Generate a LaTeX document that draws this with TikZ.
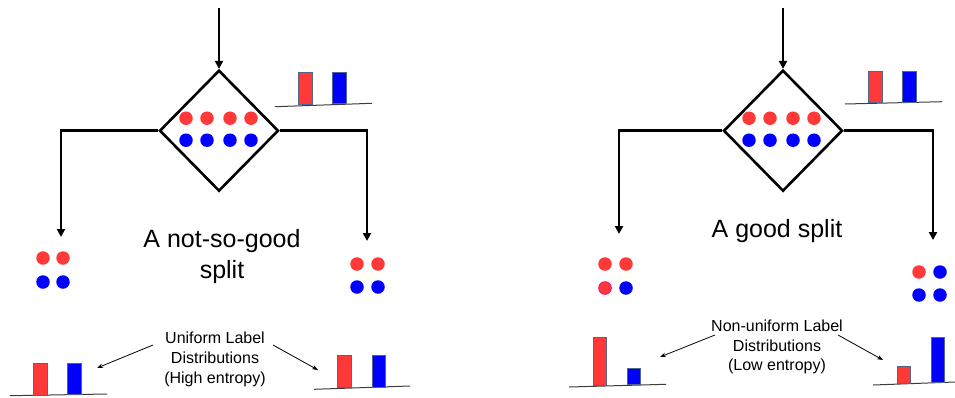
\documentclass[tikz,border=0pt]{standalone}
\usepackage{fontspec}
\setmainfont{Liberation Sans}
\usepackage{xcolor}
\definecolor{dot_red}{RGB}{255,56,56}
\definecolor{dot_blue}{RGB}{0,0,255}
\definecolor{bar_edge}{RGB}{80,100,140}
\definecolor{axis_gray}{RGB}{60,60,60}
\usetikzlibrary{shapes.geometric,arrows.meta}

\tikzset{
  test_box/.style={diamond, draw, line width=2.6pt, inner sep=0pt,
    minimum width=119pt, minimum height=121pt},
  flow/.style={line width=2.6pt, -{Triangle[length=8pt,width=8pt]}},
  red_dot/.style={circle, fill=dot_red, inner sep=0pt, minimum size=13.5pt},
  blue_dot/.style={circle, fill=dot_blue, inner sep=0pt, minimum size=13.5pt},
  red_bar/.style={fill=dot_red, draw=bar_edge, line width=0.9pt},
  blue_bar/.style={fill=dot_blue, draw=bar_edge, line width=0.9pt},
  base_line/.style={draw=axis_gray, line width=1pt},
  title_text/.style={align=center, font=\fontsize{25}{31}\selectfont},
  note_text/.style={align=center, font=\fontsize{16}{19.6}\selectfont},
  note_arrow/.style={line width=0.8pt, -{Stealth[length=6pt,width=4.5pt]}}
}

\begin{document}
\begin{tikzpicture}[x=1pt,y=-1pt]
\useasboundingbox (0,0) rectangle (955,397);

% ---- left: the not-so-good split
\node[test_box] (split_a) at (219,130.7) {};
\coordinate (entry_a) at (219,8);
\coordinate (leaf_a1) at (61,237);
\coordinate (leaf_a2) at (367,241);
\draw[flow] (entry_a) -- (split_a.north);
\draw[flow] (split_a.west) -| (leaf_a1);
\draw[flow] (split_a.east) -| (leaf_a2);

\foreach \dx [count=\i] in {-33,-12,11,32} {
  \node[red_dot] (in_a_r\i) at ([xshift=\dx pt,yshift=12.5pt]split_a.center) {};
  \node[blue_dot] (in_a_b\i) at ([xshift=\dx pt,yshift=-9.5pt]split_a.center) {};
}

\node[red_dot] (out_a1_1) at (43,258) {};
\node[red_dot] (out_a1_2) at (63,258) {};
\node[blue_dot] (out_a1_3) at (43,282) {};
\node[blue_dot] (out_a1_4) at (63,282) {};

\node[red_dot] (out_a2_1) at (357,264) {};
\node[red_dot] (out_a2_2) at (378,264) {};
\node[blue_dot] (out_a2_3) at (357,287) {};
\node[blue_dot] (out_a2_4) at (378,287) {};

\node[title_text] (title_a) at (222,256.2) {A not-so-good\\split};

% label histograms
\draw[base_line] (275,106.7) -- (372,103.3);
\draw[red_bar] (298,72) rectangle (312,104);
\draw[blue_bar] (332,72) rectangle (346,103.6);

\draw[base_line] (10,395.7) -- (107,394);
\draw[red_bar] (33,363) rectangle (47,395.2);
\draw[blue_bar] (67,363) rectangle (81,394.7);

\draw[base_line] (314,389.3) -- (410,386);
\draw[red_bar] (337,355) rectangle (351,387.8);
\draw[blue_bar] (372,355) rectangle (385,387.2);

\node[note_text] (note_a) at (215,359.4) {Uniform Label\\Distributions\\(High entropy)};
\coordinate (tail_a1) at (153,345);
\coordinate (head_a1) at (97,368);
\coordinate (tail_a2) at (273,345);
\coordinate (head_a2) at (318,370);
\draw[note_arrow] (tail_a1) -- (head_a1);
\draw[note_arrow] (tail_a2) -- (head_a2);

% ---- right: the good split
\node[test_box] (split_b) at (783,130.7) {};
\coordinate (entry_b) at (783,8);
\coordinate (leaf_b1) at (619,234);
\coordinate (leaf_b2) at (933,240);
\draw[flow] (entry_b) -- (split_b.north);
\draw[flow] (split_b.west) -| (leaf_b1);
\draw[flow] (split_b.east) -| (leaf_b2);

\foreach \dx [count=\i] in {-34,-13,10,31} {
  \node[red_dot] (in_b_r\i) at ([xshift=\dx pt,yshift=12.5pt]split_b.center) {};
  \node[blue_dot] (in_b_b\i) at ([xshift=\dx pt,yshift=-9.5pt]split_b.center) {};
}

\node[red_dot] (out_b1_1) at (605,264) {};
\node[red_dot] (out_b1_2) at (626,264) {};
\node[red_dot, draw=magenta, line width=0.7pt, minimum size=12.8pt] (out_b1_3) at (605,288) {};
\node[blue_dot] (out_b1_4) at (626,288) {};

\node[red_dot] (out_b2_1) at (919,272) {};
\node[blue_dot] (out_b2_2) at (940,272) {};
\node[blue_dot] (out_b2_3) at (919,295) {};
\node[blue_dot] (out_b2_4) at (940,295) {};

\node[title_text, anchor=base] (title_b) at (777,237) {A good split};

% label histograms
\draw[base_line] (845,104) -- (942,101.7);
\draw[red_bar] (868,71) rectangle (882,102.8);
\draw[blue_bar] (902,71) rectangle (916,102.3);

\draw[base_line] (569,387) -- (666,384.3);
\draw[red_bar] (593,337) rectangle (606,385.8);
\draw[blue_bar] (627,368) rectangle (640,384.8);

\draw[base_line] (873,385) -- (955,382);
\draw[red_bar] (897,366) rectangle (910,383.6);
\draw[blue_bar] (931,337) rectangle (944,382.6);

\node[note_text] (note_b) at (777,347) {Non-uniform Label\\Distributions\\(Low entropy)};
\coordinate (tail_b1) at (715,335);
\coordinate (head_b1) at (660,357);
\coordinate (tail_b2) at (838,335);
\coordinate (head_b2) at (883,360);
\draw[note_arrow] (tail_b1) -- (head_b1);
\draw[note_arrow] (tail_b2) -- (head_b2);

\end{tikzpicture}
\end{document}
